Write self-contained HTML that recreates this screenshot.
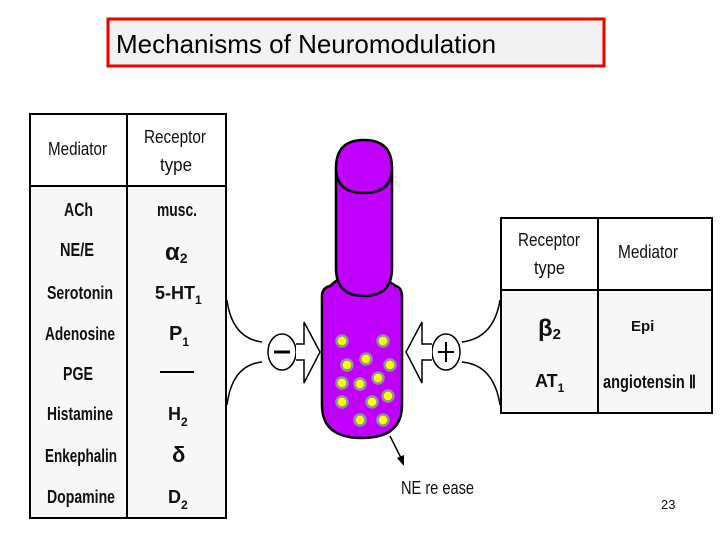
<!DOCTYPE html>
<html><head><style>
body{margin:0;background:#fff;width:720px;height:540px;overflow:hidden}
svg text{font-family:"Liberation Sans",sans-serif}
</style></head><body>
<svg width="720" height="540" viewBox="0 0 720 540" xmlns="http://www.w3.org/2000/svg">
<rect x="108" y="19" width="496" height="47" fill="#f2f2f2" stroke="#e00" stroke-width="3"/>
<text x="116" y="53" font-size="26" fill="#000">Mechanisms of Neuromodulation</text>

<!-- left table -->
<rect x="30" y="114" width="196" height="404" fill="#f7f7f7" stroke="#000" stroke-width="2"/>
<rect x="31" y="115" width="194" height="71" fill="#fff"/>
<line x1="127" y1="114" x2="127" y2="518" stroke="#000" stroke-width="2"/>
<line x1="30" y1="186" x2="226" y2="186" stroke="#000" stroke-width="2"/>
<g font-size="18" fill="#111" lengthAdjust="spacingAndGlyphs">
<text x="48" y="155" textLength="59" lengthAdjust="spacingAndGlyphs">Mediator</text>
<text x="144" y="143" textLength="62" lengthAdjust="spacingAndGlyphs">Receptor</text>
<text x="160" y="171" textLength="32" lengthAdjust="spacingAndGlyphs">type</text>
<g font-weight="bold">
<text x="64" y="216" textLength="29" lengthAdjust="spacingAndGlyphs">ACh</text>
<text x="60" y="256" textLength="34" lengthAdjust="spacingAndGlyphs">NE/E</text>
<text x="47" y="299" textLength="66" lengthAdjust="spacingAndGlyphs">Serotonin</text>
<text x="45" y="340" textLength="70" lengthAdjust="spacingAndGlyphs">Adenosine</text>
<text x="63" y="380" textLength="30" lengthAdjust="spacingAndGlyphs">PGE</text>
<text x="47" y="420" textLength="66" lengthAdjust="spacingAndGlyphs">Histamine</text>
<text x="45" y="462" textLength="72" lengthAdjust="spacingAndGlyphs">Enkephalin</text>
<text x="47" y="503" textLength="68" lengthAdjust="spacingAndGlyphs">Dopamine</text>
<text x="157" y="216" textLength="40" lengthAdjust="spacingAndGlyphs">musc.</text>
<text x="165" y="260" font-size="24">α<tspan font-size="14" dy="3">2</tspan></text>
<text x="155" y="299">5-HT<tspan font-size="12" dy="5">1</tspan></text>
<text x="169" y="340" font-size="20">P<tspan font-size="12" dy="6">1</tspan></text>
<text x="168" y="420">H<tspan font-size="12" dy="6">2</tspan></text>
<text x="172" y="462" font-size="22">δ</text>
<text x="168" y="503">D<tspan font-size="12" dy="6">2</tspan></text>
</g>
</g>
<line x1="160" y1="372" x2="194" y2="372" stroke="#000" stroke-width="2"/>

<!-- right table -->
<rect x="501" y="218" width="211" height="195" fill="#f7f7f7" stroke="#000" stroke-width="2"/>
<rect x="502" y="219" width="209" height="71" fill="#fff"/>
<line x1="598" y1="218" x2="598" y2="413" stroke="#000" stroke-width="2"/>
<line x1="501" y1="290" x2="712" y2="290" stroke="#000" stroke-width="2"/>
<g font-size="18" fill="#111">
<text x="518" y="246" textLength="62" lengthAdjust="spacingAndGlyphs">Receptor</text>
<text x="534" y="274" textLength="31" lengthAdjust="spacingAndGlyphs">type</text>
<text x="618" y="258" textLength="60" lengthAdjust="spacingAndGlyphs">Mediator</text>
<text x="538" y="336" font-weight="bold" font-size="24">β<tspan font-size="15" dy="3">2</tspan></text>
<text x="631" y="331" font-weight="bold" font-size="15">Epi</text>
<text x="535" y="387" font-weight="bold">AT<tspan font-size="12" dy="5">1</tspan></text>
<text x="603" y="388" font-weight="bold" textLength="93" lengthAdjust="spacingAndGlyphs">angiotensin Ⅱ</text>
</g>

<!-- connectors -->
<g fill="none" stroke="#000" stroke-width="1.5">
<path d="M227 300 Q232 338 262 342"/>
<path d="M227 405 Q232 365 262 362"/>
<path d="M500 300 Q494 338 462 342"/>
<path d="M500 405 Q494 365 462 362"/>
</g>
<ellipse cx="282" cy="352" rx="14" ry="18" fill="#fff" stroke="#000" stroke-width="1.5"/>
<line x1="274" y1="352" x2="290" y2="352" stroke="#000" stroke-width="3"/>
<path d="M296 344 H304 V322 L320 352 L304 383 V360 H296" fill="#fff" stroke="#000" stroke-width="1.5"/>
<ellipse cx="446" cy="352" rx="14" ry="18" fill="#fff" stroke="#000" stroke-width="1.5"/>
<line x1="438" y1="352" x2="454" y2="352" stroke="#000" stroke-width="2"/>
<line x1="446" y1="342" x2="446" y2="362" stroke="#000" stroke-width="2"/>
<path d="M432 344 H422 V322 L406 352 L422 383 V360 H432" fill="#fff" stroke="#000" stroke-width="1.5"/>

<!-- neuron -->
<path d="M330 286 L336 281 L388 281 L396 286 Q402 288 402 296 V405 Q402 438 362 438 Q322 438 322 405 V296 Q322 288 330 286 Z" fill="#c000ff" stroke="#000" stroke-width="2.5"/>
<path d="M336 168 V268 Q336 296 364 296 Q392 296 392 268 V168 Z" fill="#c000ff" stroke="#000" stroke-width="2.5"/>
<path d="M336 168 Q336 140 364 140 Q392 140 392 168 Q392 193 364 193 Q336 193 336 168 Z" fill="#c000ff" stroke="#000" stroke-width="2.5"/>
<g fill="#ffff00" stroke="#9090a0" stroke-width="2.5">
<circle cx="342" cy="341" r="5.5"/><circle cx="383" cy="341" r="5.5"/>
<circle cx="347" cy="365" r="5.5"/><circle cx="366" cy="359" r="5.5"/><circle cx="390" cy="365" r="5.5"/>
<circle cx="342" cy="383" r="5.5"/><circle cx="360" cy="384" r="5.5"/><circle cx="378" cy="378" r="5.5"/>
<circle cx="342" cy="402" r="5.5"/><circle cx="372" cy="402" r="5.5"/><circle cx="388" cy="396" r="5.5"/>
<circle cx="360" cy="420" r="5.5"/><circle cx="383" cy="420" r="5.5"/>
</g>
<line x1="390" y1="436" x2="401" y2="458" stroke="#000" stroke-width="1.5"/>
<path d="M397 458 L404 466 L404 455 Z" fill="#000"/>
<text x="401" y="494" font-size="18" fill="#111" textLength="73" lengthAdjust="spacingAndGlyphs">NE re ease</text>
<text x="661" y="509" font-size="13" fill="#111">23</text>
</svg>
</body></html>
